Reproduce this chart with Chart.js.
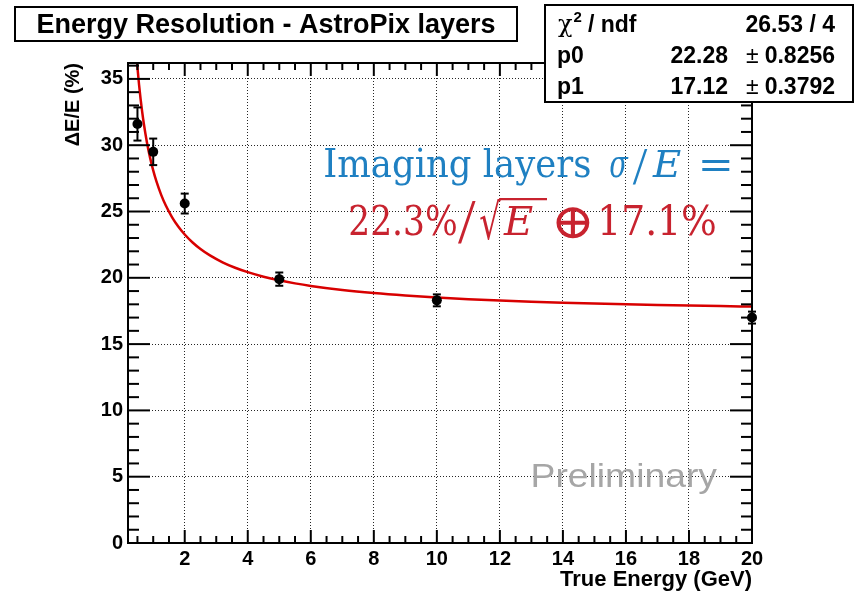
<!DOCTYPE html>
<html>
<head>
<meta charset="utf-8">
<script src="https://cdn.jsdelivr.net/npm/chart.js@4/dist/chart.umd.min.js"></script>
<style>
  html, body { margin: 0; padding: 0; background: #fff; }
  canvas { display: block; }
</style>
</head>
<body>
<canvas id="c" width="856" height="593"></canvas>
<script>
// Measured energy resolution per beam energy
const energies = [0.5, 1, 2, 5, 10, 20];
const resolution = [31.6, 29.5, 25.6, 19.9, 18.3, 17.0];
const resolutionErr = [1.25, 1.0, 0.75, 0.5, 0.45, 0.45];

// Axis tick labels
const xTickLabels = [2, 4, 6, 8, 10, 12, 14, 16, 18, 20];
const yTickLabels = [0, 5, 10, 15, 20, 25, 30, 35];

// Fit result: sigma/E = p0/sqrt(E) (+) p1
const fitP0 = 22.28, fitP0Err = 0.8256;
const fitP1 = 17.12, fitP1Err = 0.3792;
const chi2 = 26.53, ndf = 4;

// Energies at which the fitted function is sampled for drawing
const fitEnergies = [0.42, 0.45, 0.5, 0.55, 0.6, 0.65, 0.7, 0.8, 0.9, 1, 1.1, 1.25, 1.4, 1.6, 1.8, 2,
  2.25, 2.5, 2.8, 3.2, 3.6, 4, 4.5, 5, 5.5, 6, 7, 8, 9, 10, 11, 12, 13, 14, 15, 16, 17, 18, 19, 20];

const SANS = "'Liberation Sans', Arial, Helvetica, sans-serif";
const SERIF = "'DejaVu Serif', 'Liberation Serif', serif";
const THIN_SERIF = "'Liberation Serif', 'DejaVu Serif', serif";

function resolutionModel(e) {
  return Math.sqrt((fitP0 * fitP0) / e + fitP1 * fitP1);
}

const measured = energies.map((e, i) => ({ x: e, y: resolution[i] }));
const fitCurve = fitEnergies.map(e => ({ x: e, y: resolutionModel(e) }));

function line(ctx, x1, y1, x2, y2) {
  ctx.beginPath();
  ctx.moveTo(x1, y1);
  ctx.lineTo(x2, y2);
  ctx.stroke();
}

// Place a text run so its inked glyphs span [x0,x1] horizontally and
// run from yTop down to the baseline (or to yBottom when given).
// With uniform=true the glyph keeps its proportions and is centred in [x0,x1].
function fitText(ctx, text, font, x0, x1, yTop, baseline, yBottom, uniform) {
  ctx.save();
  ctx.font = font;
  ctx.textAlign = 'left';
  ctx.textBaseline = 'alphabetic';
  const m = ctx.measureText(text);
  const l = m.actualBoundingBoxLeft, r = m.actualBoundingBoxRight;
  const a = m.actualBoundingBoxAscent, d = m.actualBoundingBoxDescent;
  let sx, sy, oy;
  if (yBottom !== undefined) {
    sy = (yBottom - yTop) / (a + d);
    oy = yTop + a * sy;
  } else {
    sy = (baseline - yTop) / a;
    oy = baseline;
  }
  let ox;
  if (uniform) {
    sx = sy;
    ox = (x0 + x1) / 2 - ((r - l) / 2) * sx;
  } else {
    sx = (x1 - x0) / (l + r);
    ox = x0 + l * sx;
  }
  ctx.translate(ox, oy);
  ctx.scale(sx, sy);
  ctx.fillText(text, 0, 0);
  ctx.restore();
}

// Vertical error bars with small end caps, drawn just under the markers
const errorBars = {
  id: 'errorBars',
  beforeDatasetDraw(chart, args) {
    if (args.index !== 0) return;
    const { ctx } = chart;
    const xs = chart.scales.x, ys = chart.scales.y;
    ctx.save();
    ctx.strokeStyle = '#000';
    ctx.lineWidth = 2;
    energies.forEach((e, i) => {
      const px = xs.getPixelForValue(e);
      const hi = ys.getPixelForValue(resolution[i] + resolutionErr[i]);
      const lo = ys.getPixelForValue(resolution[i] - resolutionErr[i]);
      line(ctx, px, hi, px, lo);
      line(ctx, px - 4, hi, px + 4, hi);
      line(ctx, px - 4, lo, px + 4, lo);
    });
    ctx.restore();
  }
};

// Frame with inward tick marks on all four sides
const frameTicks = {
  id: 'frameTicks',
  afterDatasetsDraw(chart) {
    const { ctx, chartArea } = chart;
    const { left, right, top, bottom } = chartArea;
    const xs = chart.scales.x, ys = chart.scales.y;
    ctx.save();
    ctx.strokeStyle = '#000';
    ctx.lineWidth = 2;
    for (let k = 0; k <= Math.floor(ys.max); k++) {
      const y = ys.getPixelForValue(k);
      const len = (k % 5 === 0) ? 22 : 11;
      line(ctx, left, y, left + len, y);
      line(ctx, right, y, right - len, y);
    }
    for (let k = 1; k <= 40; k++) {
      const v = k * 0.5;
      if (v < xs.min) continue;
      const x = xs.getPixelForValue(v);
      const len = (k % 4 === 0) ? 13 : 7;
      line(ctx, x, bottom, x, bottom - len);
      line(ctx, x, top, x, top + len);
    }
    ctx.strokeRect(left, top, right - left, bottom - top);
    ctx.restore();
  }
};

const decorations = {
  id: 'decorations',
  afterDraw(chart) {
    const { ctx, chartArea } = chart;
    ctx.save();

    // Title box
    ctx.fillStyle = '#fff';
    ctx.fillRect(15, 7, 502, 34);
    ctx.strokeStyle = '#000';
    ctx.lineWidth = 2;
    ctx.strokeRect(15, 7, 502, 34);
    ctx.fillStyle = '#000';
    ctx.font = 'bold 27px ' + SANS;
    ctx.textAlign = 'center';
    ctx.textBaseline = 'alphabetic';
    ctx.fillText('Energy Resolution - AstroPix layers', 266, 33);

    // Fit statistics box
    const bx = 545, by = 5, bw = 308, bh = 97;
    ctx.fillStyle = '#fff';
    ctx.fillRect(bx, by, bw, bh);
    ctx.strokeRect(bx, by, bw, bh);
    ctx.fillStyle = '#000';
    ctx.textAlign = 'left';
    ctx.font = '24px ' + SERIF;
    ctx.fillText('\u03C7', 558, 32);
    const chiW = ctx.measureText('\u03C7').width;
    ctx.font = 'bold 15px ' + SANS;
    ctx.fillText('2', 558 + chiW + 1, 22);
    ctx.font = 'bold 23px ' + SANS;
    ctx.fillText(' / ndf', 558 + chiW + 9, 32);
    ctx.fillText('p0', 557, 63);
    ctx.fillText('p1', 557, 94);
    ctx.textAlign = 'right';
    ctx.fillText(chi2.toFixed(2) + ' / ' + ndf, 835, 32);
    ctx.fillText(fitP0.toFixed(2), 728, 63);
    ctx.fillText(fitP1.toFixed(2), 728, 94);
    ctx.fillText(fitP0Err.toFixed(4), 835, 63);
    ctx.fillText(fitP1Err.toFixed(4), 835, 94);
    const numW = ctx.measureText('0.8256').width;
    ctx.font = '23px ' + SANS;
    ctx.fillText('\u00B1', 835 - numW - 6, 63);
    ctx.fillText('\u00B1', 835 - numW - 6, 94);

    // Axis titles
    ctx.fillStyle = '#000';
    ctx.font = 'bold 22px ' + SANS;
    ctx.textAlign = 'right';
    ctx.fillText('True Energy (GeV)', chartArea.right, 586);
    ctx.save();
    ctx.translate(79, chartArea.top);
    ctx.rotate(-Math.PI / 2);
    ctx.font = 'bold 20px ' + SANS;
    ctx.textAlign = 'right';
    ctx.fillText('\u0394E/E (%)', 0, 0);
    ctx.restore();

    // Resolution formula annotation
    const blue = '#1f80c2';
    const red = '#c8232f';
    const up = '40px ' + SERIF, it = 'italic 40px ' + SERIF;
    const slash = '40px ' + THIN_SERIF;
    ctx.fillStyle = blue;
    fitText(ctx, 'Imaging layers', up, 325, 590, 148, 177);
    fitText(ctx, '\u03C3', it, 610, 629, 157, 177);
    fitText(ctx, '/', slash, 633, 648, 150, undefined, 184, true);
    fitText(ctx, 'E', it, 652, 681, 150, 177);
    fitText(ctx, '=', up, 702, 730, 160, undefined, 171);

    ctx.fillStyle = red;
    fitText(ctx, fitP0.toFixed(1) + '%', up, 350, 456, 204, 235);
    fitText(ctx, '/', slash, 458, 477, 202, undefined, 243, true);
    fitText(ctx, '\u221A', up, 480, 501, 198, undefined, 240);
    fitText(ctx, 'E', it, 503, 533, 206, 235);
    fitText(ctx, '\u2295', up, 556, 590, 206, undefined, 238);
    fitText(ctx, fitP1.toFixed(1) + '%', up, 601, 715, 204, 235);
    ctx.strokeStyle = red;
    ctx.lineWidth = 2.2;
    line(ctx, 499, 199.1, 547, 199.1);

    // Watermark
    ctx.fillStyle = '#a6a6a6';
    fitText(ctx, 'Preliminary', '30px ' + SANS, 533, 717, 463, 487);

    ctx.restore();
  }
};

new Chart(document.getElementById('c'), {
  type: 'scatter',
  data: {
    datasets: [
      {
        label: 'measured',
        data: measured,
        backgroundColor: '#000',
        borderColor: '#000',
        pointRadius: 5,
        pointHoverRadius: 5,
        pointBorderWidth: 0,
        clip: false,
        order: 1
      },
      {
        label: 'fit',
        data: fitCurve,
        showLine: true,
        borderColor: '#d80000',
        borderWidth: 2.5,
        pointRadius: 0,
        cubicInterpolationMode: 'monotone',
        clip: 0,
        order: 2
      }
    ]
  },
  options: {
    responsive: false,
    animation: false,
    devicePixelRatio: 1,
    layout: { padding: { left: 0, top: 63, right: 104, bottom: 0 } },
    plugins: { legend: { display: false }, tooltip: { enabled: false }, title: { display: false } },
    scales: {
      x: {
        type: 'linear',
        min: 0.2,
        max: 20,
        afterBuildTicks: s => { s.ticks = xTickLabels.map(v => ({ value: v })); },
        afterFit: s => { s.height = 50; },
        grid: { color: 'rgba(0,0,0,0.85)', lineWidth: 1, drawTicks: false },
        border: { display: false, dash: [1, 2] },
        ticks: {
          padding: 4,
          maxRotation: 0,
          autoSkip: false,
          color: '#000',
          font: { family: SANS, weight: 'bold', size: 20 },
          callback: v => String(v)
        }
      },
      y: {
        type: 'linear',
        min: 0,
        max: 36.2,
        afterBuildTicks: s => { s.ticks = yTickLabels.map(v => ({ value: v })); },
        afterFit: s => { s.width = 128; },
        grid: { color: 'rgba(0,0,0,0.85)', lineWidth: 1, drawTicks: false },
        border: { display: false, dash: [1, 2] },
        ticks: {
          padding: 5,
          autoSkip: false,
          color: '#000',
          font: { family: SANS, weight: 'bold', size: 20 },
          callback: v => String(v)
        }
      }
    }
  },
  plugins: [errorBars, frameTicks, decorations]
});
</script>
</body>
</html>
